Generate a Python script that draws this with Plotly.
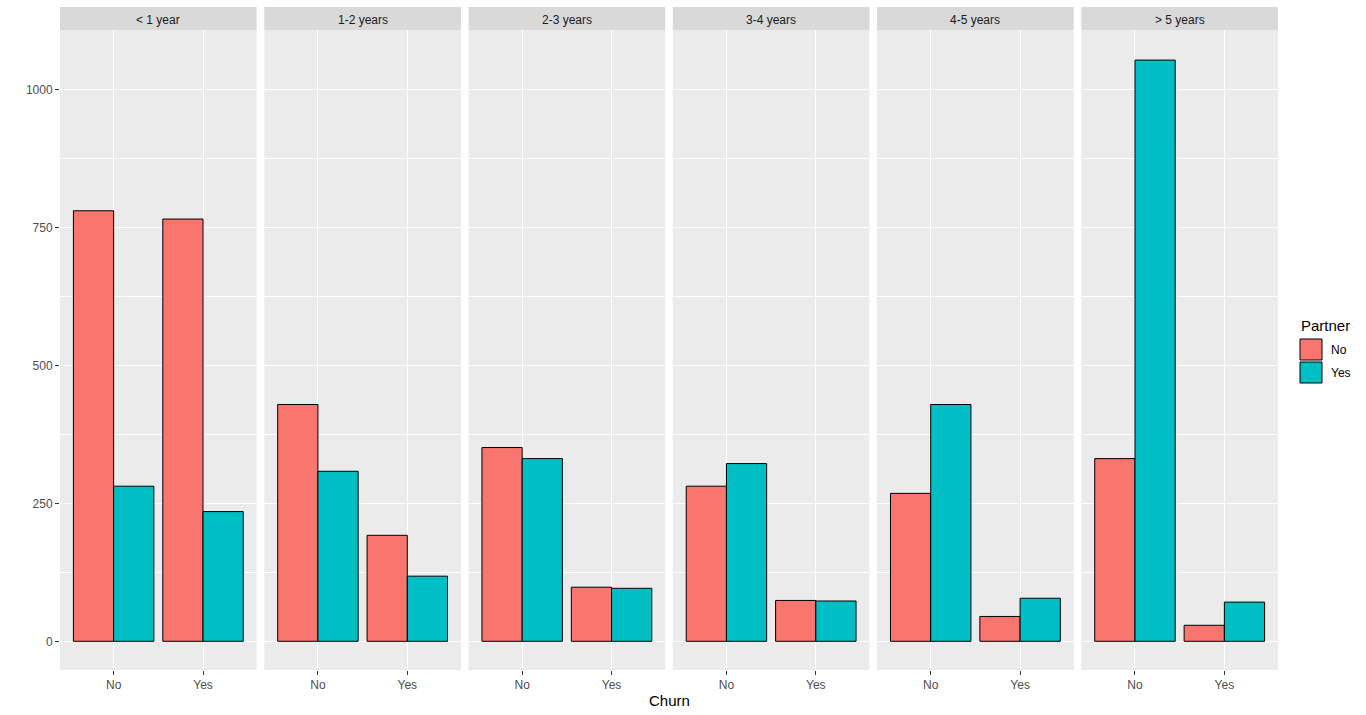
import plotly.graph_objects as go

# ---- data ----
tenure_groups = ["< 1 year", "1-2 years", "2-3 years", "3-4 years", "4-5 years", "> 5 years"]
churn = ["No", "Yes"]
partner = ["No", "Yes"]
# counts[partner][tenure_group] -> [churn No, churn Yes]
partner_no = [[780, 765], [429, 192], [351, 98], [281, 74], [268, 45], [331, 29]]
partner_yes = [[281, 235], [308, 118], [331, 96], [322, 73], [429, 78], [1053, 71]]
colors = ["#F8766D", "#00BFC4"]
y_ticks = [0, 250, 500, 750, 1000]

W, H = 1366, 715
ML, MR, MT, MB = 60, 88, 7, 45
pw = W - ML - MR
ph = H - MT - MB

def px_x(px):
    return (px - ML) / pw

def px_y(py):
    return (H - MB - py) / ph

n = len(tenure_groups)
gap = 7.6
panel_w = (pw - gap * (n - 1)) / n
strip_bottom = px_y(30)

fig = go.Figure()
series = [partner_no, partner_yes]
y_range = [-52, 1107.5]

FONT = "Liberation Sans, Arial"
shapes = []
annotations = []
for i, grp in enumerate(tenure_groups):
    ax = "" if i == 0 else str(i + 1)
    x0 = (i * (panel_w + gap)) / pw
    x1 = (i * (panel_w + gap) + panel_w) / pw
    for k, p in enumerate(partner):
        fig.add_trace(go.Bar(
            x=churn, y=series[k][i], name=p,
            marker=dict(color=colors[k], line=dict(color="black", width=1)),
            xaxis="x" + ax, yaxis="y" + ax, showlegend=False,
            offsetgroup=str(k), hoverinfo="skip",
        ))
    fig.layout["xaxis" + ax] = dict(
        domain=[x0, x1], anchor="y" + ax, type="category",
        range=[-0.6, 1.6], showgrid=True, gridcolor="white", gridwidth=1.1,
        showline=False, zeroline=False, ticks="outside", ticklen=4,
        tickcolor="#333333", tickwidth=1,
        tickfont=dict(family=FONT, size=12, color="#4D4D4D"),
    )
    fig.layout["yaxis" + ax] = dict(
        domain=[0, strip_bottom], anchor="x" + ax,
        range=y_range, tickvals=y_ticks,
        showticklabels=(i == 0), ticks="outside" if i == 0 else "",
        ticklen=4, tickcolor="#333333", tickwidth=1,
        tickfont=dict(family=FONT, size=12, color="#4D4D4D"),
        showgrid=True, gridcolor="white", gridwidth=1.1, zeroline=False,
        showline=False,
        minor=dict(dtick=125, tick0=0, showgrid=True, gridcolor="white", gridwidth=0.5),
    )
    shapes.append(dict(type="rect", xref="paper", yref="paper",
                       x0=x0, x1=x1, y0=0, y1=strip_bottom,
                       fillcolor="#EBEBEB", line=dict(width=0), layer="below"))
    shapes.append(dict(type="rect", xref="paper", yref="paper",
                       x0=x0, x1=x1, y0=strip_bottom, y1=1,
                       fillcolor="#D9D9D9", line=dict(width=0), layer="below"))
    annotations.append(dict(text=grp, xref="paper", yref="paper",
                            x=(x0 + x1) / 2, y=px_y(20),
                            showarrow=False, xanchor="center", yanchor="middle",
                            font=dict(family=FONT, size=12, color="#1A1A1A")))

# x axis title
annotations.append(dict(text="Churn", xref="paper", yref="paper",
                        x=px_x(669), y=px_y(700), showarrow=False,
                        xanchor="center", yanchor="middle",
                        font=dict(family=FONT, size=15, color="black")))

# manual legend (ggplot style)
annotations.append(dict(text="Partner", xref="paper", yref="paper",
                        x=px_x(1299), y=px_y(326), showarrow=False,
                        xanchor="left", yanchor="middle",
                        font=dict(family=FONT, size=15, color="black")))
key_tops = [339, 362]
for k, p in enumerate(partner):
    t = key_tops[k]
    shapes.append(dict(type="rect", xref="paper", yref="paper",
                       x0=px_x(1300), x1=px_x(1322), y0=px_y(t + 21), y1=px_y(t),
                       fillcolor=colors[k], line=dict(color="black", width=1)))
    annotations.append(dict(text=p, xref="paper", yref="paper",
                            x=px_x(1329), y=px_y(t + 11), showarrow=False,
                            xanchor="left", yanchor="middle",
                            font=dict(family=FONT, size=12, color="black")))

fig.update_layout(
    width=W, height=H,
    margin=dict(l=ML, r=MR, t=MT, b=MB, autoexpand=False),
    paper_bgcolor="white", plot_bgcolor="rgba(0,0,0,0)",
    barmode="group", bargap=0.1, bargroupgap=0,
    shapes=shapes, annotations=annotations, showlegend=False,
    hovermode=False,
)

fig.write_html("out.html", config={"displayModeBar": False},
               post_script="document.body.style.margin='0px';document.body.style.overflow='hidden';")
